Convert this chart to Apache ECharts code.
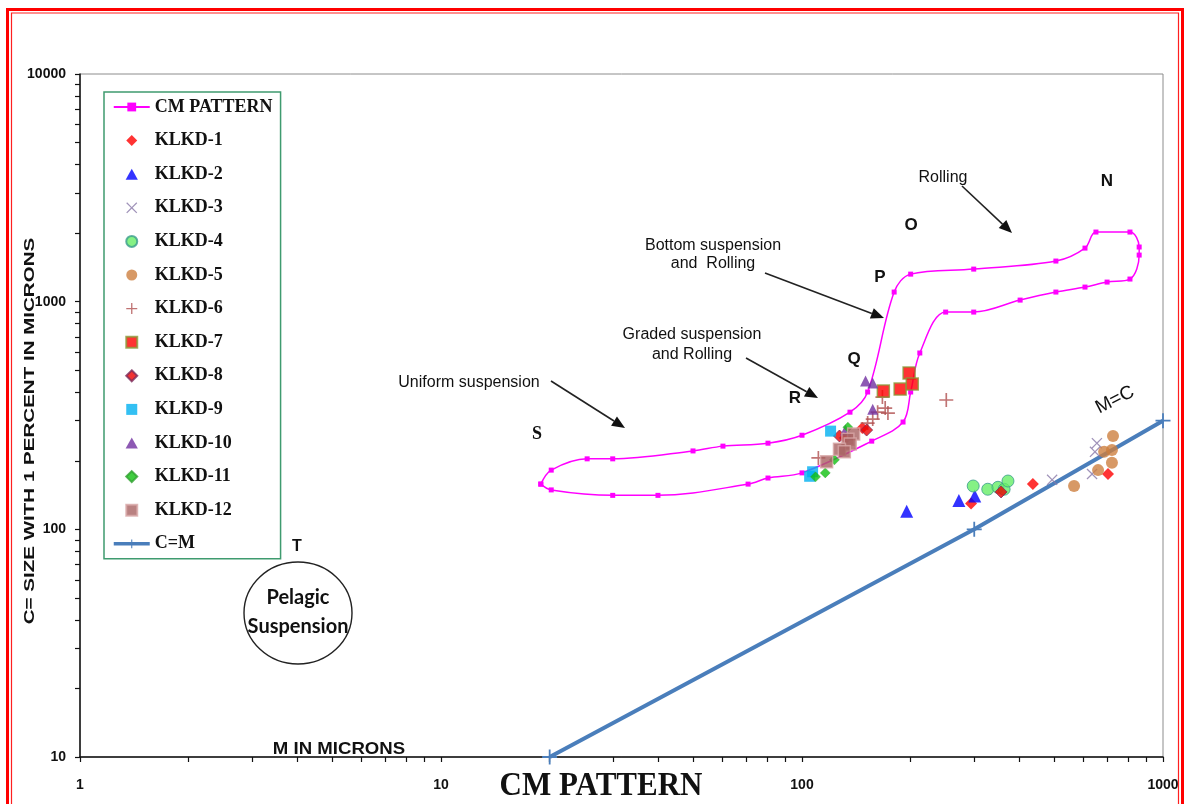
<!DOCTYPE html>
<html>
<head>
<meta charset="utf-8">
<script src="https://cdn.jsdelivr.net/npm/echarts@6/dist/echarts.min.js"></script>
<style>
  html, body { margin: 0; padding: 0; background: #ffffff; }
  #chart { width: 1185px; height: 804px; }
</style>
</head>
<body>
<div id="chart"></div>
<script>
// CM pattern envelope (closed loop: upper branch left→right, lower branch back)
const cmPattern = [
  [18.9,158],[20.2,182],[25.4,204],[29.9,204],[49.9,221],[60.4,232],[80.5,239],[100,259],
  [135.8,327],[152,401],[180,1102],[200,1321],[299,1390],[505,1508],[608,1719],[652,2022],
  [810,2022],[859,1738],[859,1602],[810,1257],[700,1219],[608,1159],[505,1102],[402,1016],
  [299,900],[250,900],[212,595],[200,401],[190.5,296],[156,244],[100,177],[80.5,168],
  [70.9,158],[39.9,141],[29.9,141],[20.2,149],[18.9,158]
];
// Reference line C=M
const cmLine = [[20,10],[300,100],[1000,300]];

// Samples: [M (coarsest 1 percentile, microns), C]
const klkd1  = [[147,279],[294,130],[436,158],[704,175]];
const klkd2  = [[195,120],[272,134],[301,140]];
const klkd3  = [[493,165],[656,239],[648,219],[636,175]];
const klkd4  = [[298,155],[327,150],[349,153],[363,150],[372,163]];
const klkd5  = [[567,155],[727,257],[722,223],[687,219],[722,196],[661,182]];
const klkd6  = [[167,381],[162,327],[170,341],[173,324],[157,305],[152,293],[111,206],[251,370]];
const klkd7  = [[168,405],[198,486],[187,413],[202,435]];
const klkd8  = [[151,273],[127,257],[132,252],[356,146]];
const klkd9  = [[120,270],[105,171],[107,179]];
const klkd10 = [[150,448],[157,439],[157,337],[132,273]];
const klkd11 = [[134,281],[109,170],[116,177],[123,202]];
const klkd12 = [[139,262],[134,249],[136,237],[127,225],[131,219],[117,198]];

const seriesNames = ['CM PATTERN','KLKD-1','KLKD-2','KLKD-3','KLKD-4','KLKD-5','KLKD-6',
  'KLKD-7','KLKD-8','KLKD-9','KLKD-10','KLKD-11','KLKD-12','C=M'];

// Tick positions (log decades with 2..9 subdivisions)
const xTicks = [1,2,3,4,5,6,7,8,9,10,20,30,40,50,60,70,80,90,100,200,300,400,500,600,700,800,900,1000];
const yTicks = [10,20,30,40,50,60,70,80,90,100,200,300,400,500,600,700,800,900,
  1000,2000,3000,4000,5000,6000,7000,8000,9000,10000];

// Marker shapes as paths so legend icons keep their aspect ratio
const PLUS = 'path://M0,4.4H10V5.6H0Z M4.4,0H5.6V10H4.4Z';
const CROSS = 'path://M0.8,0L5,4.2L9.2,0L10,0.8L5.8,5L10,9.2L9.2,10L5,5.8L0.8,10L0,9.2L4.2,5L0,0.8Z';
const DIAMOND = 'path://M5,0L10,5L5,10L0,5Z';
const TRIANGLE = 'path://M5,0L10,9L0,9Z';
const SQUARE = 'path://M0,0H10V10H0Z';
const CIRCLE = 'path://M0,5A5,5,0,1,0,10,5A5,5,0,1,0,0,5Z';

function scatter(name, data, symbol, size, style, extra) {
  return Object.assign({
    name: name, type: 'scatter', data: data, symbol: symbol, symbolSize: size,
    itemStyle: style, z: 5
  }, extra || {});
}

function arrow(x1, y1, x2, y2) {
  const dx = x2 - x1, dy = y2 - y1;
  const len = Math.sqrt(dx * dx + dy * dy);
  const ux = dx / len, uy = dy / len;
  const hl = 13, hw = 5.5;
  const bx = x2 - ux * hl, by = y2 - uy * hl;
  return [
    { type: 'line', shape: { x1: x1, y1: y1, x2: bx, y2: by },
      style: { stroke: '#222', lineWidth: 1.6 }, z: 10 },
    { type: 'polygon', shape: { points: [[x2, y2], [bx - uy * hw, by + ux * hw], [bx + uy * hw, by - ux * hw]] },
      style: { fill: '#111' }, z: 10 }
  ];
}

function label(text, x, y, font, extra) {
  return Object.assign({
    type: 'text', x: x, y: y, z: 10,
    style: { text: text, font: font, fill: '#111', align: 'center', verticalAlign: 'middle' }
  }, extra || {});
}

const SANS = "'Liberation Sans', Arial, sans-serif";
const SERIF = "'Liberation Serif', 'Times New Roman', serif";

const chart = echarts.init(document.getElementById('chart'), null, { renderer: 'canvas' });

const legendData = seriesNames.map(function (n) {
  if (n === 'C=M') return { name: n, lineStyle: { width: 3.5 } };
  return { name: n };
});

const option = {
  backgroundColor: '#ffffff',
  animation: false,
  grid: { left: 80, right: 22, top: 74, bottom: 47, show: true, borderColor: '#8c8c8c', borderWidth: 1 },
  xAxis: {
    type: 'log', logBase: 10, min: 1, max: 1000,
    axisLine: { show: true, lineStyle: { color: '#111', width: 1.5 } },
    axisTick: { show: true, customValues: xTicks, length: 5, lineStyle: { color: '#111', width: 1.2 } },
    axisLabel: {
      margin: 21, color: '#111', fontFamily: SANS, fontWeight: 'bold', fontSize: 14,
      formatter: function (v) { return String(Math.round(v)); }
    },
    splitLine: { show: false }
  },
  yAxis: {
    type: 'log', logBase: 10, min: 10, max: 10000,
    axisLine: { show: true, lineStyle: { color: '#111', width: 1.5 } },
    axisTick: { show: true, customValues: yTicks, length: 5, lineStyle: { color: '#111', width: 1.2 } },
    axisLabel: {
      margin: 14, color: '#111', fontFamily: SANS, fontWeight: 'bold', fontSize: 14,
      formatter: function (v) { return String(Math.round(v)); }
    },
    splitLine: { show: false }
  },
  legend: {
    data: legendData,
    orient: 'vertical', left: 104, top: 92,
    padding: [6, 8, 6, 8], itemGap: 15.6, itemWidth: 36, itemHeight: 11,
    borderColor: '#3f9b6f', borderWidth: 1.5, backgroundColor: '#ffffff',
    textStyle: { fontFamily: SERIF, fontWeight: 'bold', fontSize: 18, color: '#111' }
  },
  series: [
    {
      name: 'CM PATTERN', type: 'line', data: cmPattern, smooth: 0.35,
      symbol: 'rect', symbolSize: 5, showSymbol: true,
      lineStyle: { color: '#ff00ff', width: 1.5 }, itemStyle: { color: '#ff00ff' }, z: 3
    },
    scatter('KLKD-1', klkd1, DIAMOND, 12, { color: '#ff0000' }),
    scatter('KLKD-2', klkd2, TRIANGLE, 13, { color: '#0000ff' }),
    scatter('KLKD-3', klkd3, CROSS, 11, { color: '#8878a8' }),
    scatter('KLKD-4', klkd4, CIRCLE, 12, { color: '#66ee66', borderColor: '#3a9c8c', borderWidth: 1 }),
    scatter('KLKD-5', klkd5, CIRCLE, 12, { color: '#cd8040' }),
    scatter('KLKD-6', klkd6, PLUS, 14, { color: '#b05050' }),
    scatter('KLKD-7', klkd7, SQUARE, 12, { color: '#ff0000', borderColor: '#8a9a3a', borderWidth: 1.5 }),
    scatter('KLKD-8', klkd8, DIAMOND, 12, { color: '#ee0000', borderColor: '#7a2a5a', borderWidth: 1 }),
    scatter('KLKD-9', klkd9, SQUARE, 11, { color: '#00b0f0' }),
    scatter('KLKD-10', klkd10, TRIANGLE, 11, { color: '#7030a0' }),
    scatter('KLKD-11', klkd11, DIAMOND, 10, { color: '#10c010', borderColor: '#30a030', borderWidth: 0.5 }),
    scatter('KLKD-12', klkd12, SQUARE, 12, { color: '#a86262', borderColor: '#d8a8a8', borderWidth: 1.5 }),
    {
      name: 'C=M', type: 'line', data: cmLine, symbol: PLUS, symbolSize: 15,
      lineStyle: { color: '#4a7ebb', width: 4 }, itemStyle: { color: '#4a7ebb' }, z: 2
    }
  ],
  graphic: [
    // double red frame
    { type: 'rect', shape: { x: 7.5, y: 9.5, width: 1175, height: 900 }, style: { fill: 'none', stroke: '#ff0000', lineWidth: 3 }, z: 20 },
    { type: 'rect', shape: { x: 11.5, y: 13, width: 1167, height: 900 }, style: { fill: 'none', stroke: '#ff2020', lineWidth: 1.2 }, z: 20 },

    // axis titles
    label('C= SIZE WITH 1 PERCENT IN MICRONS', 30, 431, 'bold 15px ' + SANS, { rotation: Math.PI / 2, scaleX: 1.37 }),
    label('CM PATTERN', 601, 786, 'bold 31px ' + SERIF, { scaleY: 1.1 }),
    label('M IN MICRONS', 339, 749, 'bold 15px ' + SANS, { scaleX: 1.24, scaleY: 1.15 }),

    // zone letters
    label('N', 1107, 181, 'bold 17px ' + SANS),
    label('O', 911, 225, 'bold 17px ' + SANS),
    label('P', 880, 277, 'bold 17px ' + SANS),
    label('Q', 854, 359, 'bold 17px ' + SANS),
    label('R', 795, 398, 'bold 17px ' + SANS),
    label('S', 537, 434, 'bold 18px ' + SERIF),
    label('T', 297, 547, 'bold 16px ' + SANS),

    // process annotations
    label('Rolling', 943, 178, '16px ' + SANS),
    label('Bottom suspension', 713, 246, '16px ' + SANS),
    label('and  Rolling', 713, 264, '16px ' + SANS),
    label('Graded suspension', 692, 335, '16px ' + SANS),
    label('and Rolling', 692, 355, '16px ' + SANS),
    label('Uniform suspension', 469, 383, '16px ' + SANS),
    label('M=C', 1115, 400, '19px ' + SANS, { rotation: 0.47 }),
  ].concat(
    arrow(962, 186, 1012, 233),
    arrow(765, 273, 884, 318),
    arrow(746, 358, 818, 398),
    arrow(551, 381, 625, 428),
    [
      { type: 'ellipse', shape: { cx: 298, cy: 613, rx: 54, ry: 51 },
        style: { fill: '#ffffff', stroke: '#222', lineWidth: 1.4 }, z: 9 },
      label('Pelagic', 298, 598, 'bold 20px Lato, sans-serif'),
      label('Suspension', 298, 627, 'bold 20px Lato, sans-serif')
    ]
  )
};

chart.setOption(option);
</script>
</body>
</html>
